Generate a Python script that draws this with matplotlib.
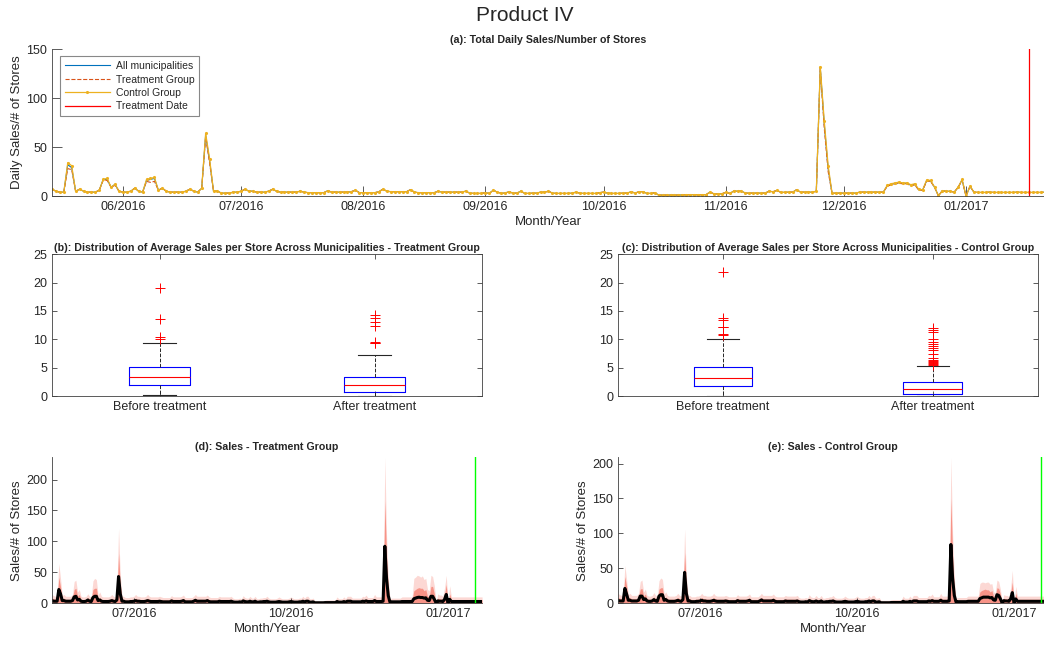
import matplotlib
matplotlib.use('Agg')
import matplotlib.pyplot as plt
import matplotlib.dates as mdates
import pandas as pd

plt.rcParams['font.family'] = ['Liberation Sans', 'DejaVu Sans']
plt.rcParams['text.color'] = '#262626'
plt.rcParams['axes.labelcolor'] = '#262626'
plt.rcParams['xtick.color'] = '#262626'
plt.rcParams['ytick.color'] = '#262626'

start_date = '2016-05-14'
treat_date = '2017-01-17'

# (a) daily sales / number of stores, one row per week (starting Saturday)
ctrl_top = [
    7, 5, 4, 4, 34, 31, 5,
    7, 5, 4, 4, 4, 6, 17,
    18, 9, 12, 5, 4, 4, 5,
    8, 5, 4, 17, 18, 19, 6,
    8, 5, 4, 4, 4, 4, 5,
    7, 5, 4, 8, 64, 38, 5,
    5, 3, 3, 3, 4, 4, 5,
    7, 5, 5, 4, 4, 4, 5,
    7, 5, 4, 4, 4, 4, 4,
    5, 4, 3.5, 3.5, 3.5, 3.5, 3.5,
    5.5, 4, 4, 4, 4, 4, 4.5,
    6, 3.5, 3.5, 3.5, 3.5, 3.5, 4.5,
    7, 5, 4.5, 4.5, 4.5, 4.5, 4.5,
    6.5, 4, 3.5, 3.5, 3.5, 3.5, 3.5,
    5, 4, 4, 4, 4, 4, 4,
    5, 3, 2.7, 2.7, 2.7, 3.5, 2.7,
    6, 4, 3, 3, 4.5, 3, 3,
    5, 2.7, 2.7, 3, 3, 4, 4,
    5, 3, 2.7, 2.7, 2.7, 2.7, 3,
    4, 3, 2.7, 2.7, 2.7, 2.7, 3.5,
    4, 3, 2.7, 2.7, 2.7, 3, 3,
    4.5, 3, 4.5, 4.5, 2.7, 2.7, 3.5,
    1, 1, 1, 1, 1, 1, 1.2,
    1.4, 1.4, 1.4, 1.4, 1.4, 1.4, 4,
    2.3, 2.3, 2.3, 3.8, 2.7, 5, 5,
    5, 3, 3, 3, 3, 3, 3,
    5, 4.4, 5.8, 3.8, 3.8, 4, 4,
    6.5, 4, 4, 4, 4, 5, 132,
    77, 31, 2.7, 3, 3, 3, 3,
    3, 3, 4, 4, 4, 4, 4,
    4, 4, 11, 12.6, 13.5, 14.3, 13.3,
    13.5, 11.6, 12.6, 6.8, 6.5, 16.4, 16,
    9.2, 0.3, 5.5, 4.8, 5, 4, 9,
    17, 0, 10, 4, 3.7, 3.7, 3.7,
    4, 3.7, 3.7, 3.7, 3.7, 3.7, 3.7,
    4, 3.7, 3.7, 3.7, 3.7, 3.7, 3.7,
    4,
]
treat_top = [
    7, 5, 4, 4, 28, 27, 5,
    7, 5, 4, 4, 4, 6, 16,
    16, 9, 11, 5, 4, 4, 5,
    8, 5, 4, 15, 14, 15, 6,
    8, 5, 4, 4, 4, 4, 5,
    7, 5, 4, 8, 60, 34, 5,
    5, 3, 3, 3, 4, 4, 5,
    7, 5, 5, 4, 4, 4, 5,
    7, 5, 4, 4, 4, 4, 4,
    5, 4, 3.5, 3.5, 3.5, 3.5, 3.5,
    5.5, 4, 4, 4, 4, 4, 4.5,
    6, 3.5, 3.5, 3.5, 3.5, 3.5, 4.5,
    7, 5, 4.5, 4.5, 4.5, 4.5, 4.5,
    6.5, 4, 3.5, 3.5, 3.5, 3.5, 3.5,
    5, 4, 4, 4, 4, 4, 4,
    5, 3, 2.7, 2.7, 2.7, 3.5, 2.7,
    6, 4, 3, 3, 4.5, 3, 3,
    5, 2.7, 2.7, 3, 3, 4, 4,
    5, 3, 2.7, 2.7, 2.7, 2.7, 3,
    4, 3, 2.7, 2.7, 2.7, 2.7, 3.5,
    4, 3, 2.7, 2.7, 2.7, 3, 3,
    4.5, 3, 4.5, 4.5, 2.7, 2.7, 3.5,
    1, 1, 1, 1, 1, 1, 1.2,
    1.4, 1.4, 1.4, 1.4, 1.4, 1.4, 4,
    2.3, 2.3, 2.3, 3.8, 2.7, 5, 5,
    5, 3, 3, 3, 3, 3, 3,
    5, 4.4, 5.8, 3.8, 3.8, 4, 4,
    6.5, 4, 4, 4, 4, 5, 130,
    70, 25, 2.7, 3, 3, 3, 3,
    3, 3, 4, 4, 4, 4, 4,
    4, 4, 10, 11.5, 12.5, 13, 12.5,
    12.5, 10.5, 11.5, 6, 6, 15, 15,
    9, 0.3, 5.5, 4.8, 5, 4, 9,
    16, 0, 10, 4, 3.7, 3.7, 3.7,
    4, 3.7, 3.7, 3.7, 3.7, 3.7, 3.7,
    4, 3.7, 3.7, 3.7, 3.7, 3.7, 3.7,
    4,
]
all_top = [
    7, 5, 4, 4, 32, 29, 5,
    7, 5, 4, 4, 4, 6, 17,
    17, 9, 12, 5, 4, 4, 5,
    8, 5, 4, 16, 17, 18, 6,
    8, 5, 4, 4, 4, 4, 5,
    7, 5, 4, 8, 62, 36, 5,
    5, 3, 3, 3, 4, 4, 5,
    7, 5, 5, 4, 4, 4, 5,
    7, 5, 4, 4, 4, 4, 4,
    5, 4, 3.5, 3.5, 3.5, 3.5, 3.5,
    5.5, 4, 4, 4, 4, 4, 4.5,
    6, 3.5, 3.5, 3.5, 3.5, 3.5, 4.5,
    7, 5, 4.5, 4.5, 4.5, 4.5, 4.5,
    6.5, 4, 3.5, 3.5, 3.5, 3.5, 3.5,
    5, 4, 4, 4, 4, 4, 4,
    5, 3, 2.7, 2.7, 2.7, 3.5, 2.7,
    6, 4, 3, 3, 4.5, 3, 3,
    5, 2.7, 2.7, 3, 3, 4, 4,
    5, 3, 2.7, 2.7, 2.7, 2.7, 3,
    4, 3, 2.7, 2.7, 2.7, 2.7, 3.5,
    4, 3, 2.7, 2.7, 2.7, 3, 3,
    4.5, 3, 4.5, 4.5, 2.7, 2.7, 3.5,
    1, 1, 1, 1, 1, 1, 1.2,
    1.4, 1.4, 1.4, 1.4, 1.4, 1.4, 4,
    2.3, 2.3, 2.3, 3.8, 2.7, 5, 5,
    5, 3, 3, 3, 3, 3, 3,
    5, 4.4, 5.8, 3.8, 3.8, 4, 4,
    6.5, 4, 4, 4, 4, 5, 131,
    74, 28, 2.7, 3, 3, 3, 3,
    3, 3, 4, 4, 4, 4, 4,
    4, 4, 10.5, 12, 13, 13.6, 13,
    13, 11, 12, 6.4, 6.2, 15.7, 15.5,
    9.1, 0.3, 5.5, 4.8, 5, 4, 9,
    16.5, 0, 10, 4, 3.7, 3.7, 3.7,
    4, 3.7, 3.7, 3.7, 3.7, 3.7, 3.7,
    4, 3.7, 3.7, 3.7, 3.7, 3.7, 3.7,
    4,
]

# (b), (c) box statistics
box_labels = ['Before treatment', 'After treatment']
treat_box = [
    dict(whislo=0.1, q1=2.0, med=3.4, q3=5.1, whishi=9.4, fliers=[10.0, 10.4, 13.5, 19.0]),
    dict(whislo=0.0, q1=0.7, med=2.0, q3=3.4, whishi=7.2,
         fliers=[9.3, 9.4, 9.55, 12.4, 13.0, 13.8, 14.3]),
]
ctrl_box = [
    dict(whislo=0.0, q1=1.8, med=3.1, q3=5.1, whishi=10.1,
         fliers=[10.7, 10.9, 12.1, 12.2, 13.4, 13.8, 21.8]),
    dict(whislo=0.0, q1=0.4, med=1.3, q3=2.5, whishi=5.3,
         fliers=[5.5, 5.7, 5.8, 6.0, 6.2, 6.4, 6.7, 7.4, 8.1, 8.5, 8.8, 9.1, 9.5,
                 10.1, 11.2, 11.6, 12.0]),
]

# (d) treatment group: median, 90th percentile and max across municipalities
treat_med = [
    4, 3, 3, 3, 22, 15, 4,
    4, 3, 3, 3, 3, 4, 10,
    11, 5, 6, 3, 2.5, 2.5, 3,
    5, 3, 2.5, 9, 11, 11, 4,
    5, 3, 2.5, 2.5, 2.5, 2.5, 3,
    4, 3, 2.5, 5, 43, 15, 3,
    3, 2, 2, 2, 2.5, 2.5, 3,
    4, 3, 3, 2.5, 2.5, 2.5, 3,
    4, 3, 2.5, 2.5, 2.5, 2.5, 2.5,
    3, 2.5, 2, 2, 2, 2, 2,
    3.5, 2.5, 2.5, 2.5, 2.5, 2.5, 3,
    4, 2, 2, 2, 2, 2, 3,
    4.5, 3, 3, 3, 3, 3, 3,
    4, 2.5, 2, 2, 2, 2, 2,
    3, 2.5, 2.5, 2.5, 2.5, 2.5, 2.5,
    3, 2, 1.5, 1.5, 1.5, 2, 1.5,
    3.5, 2.5, 2, 2, 3, 2, 2,
    3, 1.5, 1.5, 2, 2, 2.5, 2.5,
    3, 2, 1.5, 1.5, 1.5, 1.5, 2,
    2.5, 2, 1.5, 1.5, 1.5, 1.5, 2,
    2.5, 2, 1.5, 1.5, 1.5, 2, 2,
    3, 2, 3, 3, 1.5, 1.5, 2,
    0.5, 0.5, 0.5, 0.5, 0.5, 0.5, 0.8,
    0.8, 0.8, 0.8, 0.8, 0.8, 0.8, 2.5,
    1.5, 1.5, 1.5, 2.5, 1.5, 3, 3,
    3, 2, 2, 2, 2, 2, 2,
    3, 2.5, 3.5, 2.5, 2.5, 2.5, 2.5,
    4, 2.5, 2.5, 2.5, 2.5, 3, 92,
    40, 12, 1.5, 2, 2, 2, 2,
    2, 2, 2.5, 2.5, 2.5, 2.5, 2.5,
    2.5, 2.5, 7, 8, 9, 9.5, 9,
    9, 8, 8.5, 4.5, 4, 11, 11,
    6, 0.2, 3.5, 3, 3, 2.5, 6,
    14, 0, 6, 2.5, 2.5, 2.5, 2.5,
    2.5, 2.5, 2.5, 2.5, 2.5, 2.5, 2.5,
    2.5, 2.5, 2.5, 2.5, 2.5, 2.5, 2.5,
    2.5,
]
treat_q90 = [
    8, 7, 6, 6, 42, 26, 7,
    8, 6, 6, 6, 6, 8, 22,
    24, 11, 14, 6, 5.5, 5.5, 6,
    9, 6, 5.5, 22, 24, 24, 7,
    9, 6, 5.5, 5.5, 5.5, 5.5, 6,
    8, 6, 5.5, 9, 80, 30, 6,
    6, 5, 5, 5, 5.5, 5.5, 6,
    8, 6, 6, 5.5, 5.5, 5.5, 6,
    8, 6, 5.5, 5.5, 5.5, 5.5, 5.5,
    6, 5.5, 5, 5, 5, 5, 5,
    7, 5.5, 5.5, 5.5, 5.5, 5.5, 6,
    7.5, 5, 5, 5, 5, 5, 6,
    8, 6, 6, 6, 6, 6, 6,
    7.5, 5.5, 5, 5, 5, 5, 5,
    6, 5.5, 5.5, 5.5, 5.5, 5.5, 5.5,
    6, 4, 3.5, 3.5, 3.5, 4, 3.5,
    7, 5, 4, 4, 6, 4, 4,
    6, 3.5, 3.5, 4, 4, 5, 5,
    6, 4, 3.5, 3.5, 3.5, 3.5, 4,
    5.5, 4, 3.5, 3.5, 3.5, 3.5, 4,
    5.5, 4, 3.5, 3.5, 3.5, 4, 4,
    6, 4, 6, 6, 3.5, 3.5, 4,
    1.5, 1.5, 1.5, 1.5, 1.5, 1.5, 1.8,
    2, 2, 2, 2, 2, 2, 5.5,
    3.5, 3.5, 3.5, 5.5, 3.5, 6, 6,
    6, 4, 4, 4, 4, 4, 4,
    6, 5.5, 7, 5, 5, 5, 5,
    8, 5.5, 5.5, 5.5, 5.5, 6, 165,
    75, 25, 3.5, 4, 4, 4, 4,
    4, 4, 5.5, 5.5, 5.5, 5.5, 5.5,
    5.5, 5.5, 20, 22, 24, 25, 24,
    24, 20, 22, 11, 10, 27, 27,
    15, 0.8, 8, 7, 7, 5.5, 14,
    30, 0, 15, 5.5, 5.5, 5.5, 5.5,
    5.5, 5.5, 5.5, 5.5, 5.5, 5.5, 5.5,
    5.5, 5.5, 5.5, 5.5, 5.5, 5.5, 5.5,
    5.5,
]
treat_max = [
    14, 12, 11, 11, 64, 40, 12,
    14, 11, 11, 11, 11, 14, 35,
    37, 18, 22, 11, 10, 10, 11,
    15, 11, 10, 36, 40, 38, 13,
    18, 11, 10, 10, 10, 10, 11,
    14, 11, 10, 15, 121, 45, 11,
    11, 9, 9, 9, 10, 10, 11,
    14, 11, 11, 10, 10, 10, 11,
    14, 11, 10, 10, 10, 10, 10,
    11, 10, 9, 9, 9, 9, 9,
    12, 10, 10, 10, 10, 10, 11,
    13, 9, 9, 9, 9, 9, 11,
    14, 11, 11, 11, 11, 11, 11,
    13, 10, 9, 9, 9, 9, 9,
    11, 10, 10, 10, 10, 10, 10,
    11, 8, 7, 7, 7, 8, 7,
    12, 9, 8, 8, 11, 8, 8,
    11, 7, 7, 8, 8, 9, 9,
    11, 8, 7, 7, 7, 7, 8,
    10, 8, 7, 7, 7, 7, 8,
    10, 8, 7, 7, 7, 8, 8,
    11, 8, 11, 11, 7, 7, 8,
    4, 4, 4, 4, 4, 4, 4.5,
    5, 5, 5, 5, 5, 5, 10,
    7, 7, 7, 10, 7, 11, 11,
    11, 8, 8, 8, 8, 8, 8,
    11, 10, 13, 9, 9, 9, 9,
    14, 10, 10, 10, 10, 11, 236,
    110, 40, 7, 8, 8, 8, 8,
    8, 8, 10, 10, 10, 10, 10,
    10, 10, 40, 42, 45, 44, 42,
    44, 38, 40, 22, 20, 45, 43,
    28, 2, 15, 13, 13, 11, 25,
    45, 0, 28, 10, 10, 10, 10,
    10, 10, 10, 10, 10, 10, 10,
    10, 10, 10, 10, 10, 10, 10,
    10,
]

# (e) control group
ctrl_med = [
    4, 3, 3, 3, 21, 13, 4,
    4, 3, 3, 3, 3, 4, 10,
    10, 5, 6, 3, 2.5, 2.5, 3,
    5, 3, 2.5, 10, 12, 12, 4,
    5, 3, 2.5, 2.5, 2.5, 2.5, 3,
    4, 3, 2.5, 5, 44, 14, 3,
    3, 2, 2, 2, 2.5, 2.5, 3,
    4, 3, 3, 2.5, 2.5, 2.5, 3,
    4, 3, 2.5, 2.5, 2.5, 2.5, 2.5,
    3, 2.5, 2, 2, 2, 2, 2,
    3.5, 2.5, 2.5, 2.5, 2.5, 2.5, 3,
    4, 2, 2, 2, 2, 2, 3,
    4.5, 3, 3, 3, 3, 3, 3,
    4, 2.5, 2, 2, 2, 2, 2,
    3, 2.5, 2.5, 2.5, 2.5, 2.5, 2.5,
    3, 2, 1.5, 1.5, 1.5, 2, 1.5,
    3.5, 2.5, 2, 2, 3, 2, 2,
    3, 1.5, 1.5, 2, 2, 2.5, 2.5,
    3, 2, 1.5, 1.5, 1.5, 1.5, 2,
    2.5, 2, 1.5, 1.5, 1.5, 1.5, 2,
    2.5, 2, 1.5, 1.5, 1.5, 2, 2,
    3, 2, 3, 3, 1.5, 1.5, 2,
    0.5, 0.5, 0.5, 0.5, 0.5, 0.5, 0.8,
    0.8, 0.8, 0.8, 0.8, 0.8, 0.8, 2.5,
    1.5, 1.5, 1.5, 2.5, 1.5, 3, 3,
    3, 2, 2, 2, 2, 2, 2,
    3, 2.5, 3.5, 2.5, 2.5, 2.5, 2.5,
    4, 2.5, 2.5, 2.5, 2.5, 3, 84,
    36, 11, 1.5, 2, 2, 2, 2,
    2, 2, 2.5, 2.5, 2.5, 2.5, 2.5,
    2.5, 2.5, 6.5, 7.5, 8.5, 8.5, 8.5,
    8.5, 7.5, 8, 4.5, 4, 12, 11,
    6, 0.2, 3.5, 3, 3, 2.5, 6,
    15, 0, 6, 2.5, 2.5, 2.5, 2.5,
    2.5, 2.5, 2.5, 2.5, 2.5, 2.5, 2.5,
    2.5, 2.5, 2.5, 2.5, 2.5, 2.5, 2.5,
    2.5,
]
ctrl_q90 = [
    8, 7, 6, 6, 38, 24, 7,
    8, 6, 6, 6, 6, 8, 20,
    21, 10, 13, 6, 5.5, 5.5, 6,
    9, 6, 5.5, 20, 22, 22, 7,
    9, 6, 5.5, 5.5, 5.5, 5.5, 6,
    8, 6, 5.5, 9, 72, 27, 6,
    6, 5, 5, 5, 5.5, 5.5, 6,
    8, 6, 6, 5.5, 5.5, 5.5, 6,
    8, 6, 5.5, 5.5, 5.5, 5.5, 5.5,
    6, 5.5, 5, 5, 5, 5, 5,
    7, 5.5, 5.5, 5.5, 5.5, 5.5, 6,
    7.5, 5, 5, 5, 5, 5, 6,
    8, 6, 6, 6, 6, 6, 6,
    7.5, 5.5, 5, 5, 5, 5, 5,
    6, 5.5, 5.5, 5.5, 5.5, 5.5, 5.5,
    6, 4, 3.5, 3.5, 3.5, 4, 3.5,
    7, 5, 4, 4, 6, 4, 4,
    6, 3.5, 3.5, 4, 4, 5, 5,
    6, 4, 3.5, 3.5, 3.5, 3.5, 4,
    5.5, 4, 3.5, 3.5, 3.5, 3.5, 4,
    5.5, 4, 3.5, 3.5, 3.5, 4, 4,
    6, 4, 6, 6, 3.5, 3.5, 4,
    1.5, 1.5, 1.5, 1.5, 1.5, 1.5, 1.8,
    2, 2, 2, 2, 2, 2, 5.5,
    3.5, 3.5, 3.5, 5.5, 3.5, 6, 6,
    6, 4, 4, 4, 4, 4, 4,
    6, 5.5, 7, 5, 5, 5, 5,
    8, 5.5, 5.5, 5.5, 5.5, 6, 150,
    68, 22, 3.5, 4, 4, 4, 4,
    4, 4, 5.5, 5.5, 5.5, 5.5, 5.5,
    5.5, 5.5, 16, 18, 19, 20, 19,
    19, 16, 18, 10, 9, 22, 21,
    13, 0.8, 7, 6, 6, 5, 13,
    30, 0, 14, 5.5, 5.5, 5.5, 5.5,
    5.5, 5.5, 5.5, 5.5, 5.5, 5.5, 5.5,
    5.5, 5.5, 5.5, 5.5, 5.5, 5.5, 5.5,
    5.5,
]
ctrl_max = [
    14, 12, 11, 11, 54, 34, 12,
    14, 11, 11, 11, 11, 14, 31,
    33, 16, 20, 11, 10, 10, 11,
    15, 11, 10, 32, 36, 34, 13,
    16, 11, 10, 10, 10, 10, 11,
    14, 11, 10, 15, 106, 40, 11,
    11, 9, 9, 9, 10, 10, 11,
    14, 11, 11, 10, 10, 10, 11,
    14, 11, 10, 10, 10, 10, 10,
    11, 10, 9, 9, 9, 9, 9,
    12, 10, 10, 10, 10, 10, 11,
    13, 9, 9, 9, 9, 9, 11,
    14, 11, 11, 11, 11, 11, 11,
    13, 10, 9, 9, 9, 9, 9,
    11, 10, 10, 10, 10, 10, 10,
    11, 8, 7, 7, 7, 8, 7,
    12, 9, 8, 8, 11, 8, 8,
    11, 7, 7, 8, 8, 9, 9,
    11, 8, 7, 7, 7, 7, 8,
    10, 8, 7, 7, 7, 7, 8,
    10, 8, 7, 7, 7, 8, 8,
    11, 8, 11, 11, 7, 7, 8,
    4, 4, 4, 4, 4, 4, 4.5,
    5, 5, 5, 5, 5, 5, 10,
    7, 7, 7, 10, 7, 11, 11,
    11, 8, 8, 8, 8, 8, 8,
    11, 10, 13, 9, 9, 9, 9,
    14, 10, 10, 10, 10, 11, 209,
    100, 36, 7, 8, 8, 8, 8,
    8, 8, 10, 10, 10, 10, 10,
    10, 10, 28, 30, 30, 29, 30,
    30, 27, 28, 16, 15, 33, 31,
    20, 2, 12, 11, 11, 9, 22,
    47, 0, 24, 10, 10, 10, 10,
    10, 10, 10, 10, 10, 10, 10,
    10, 10, 10, 10, 10, 10, 10,
    10,
]

days = pd.date_range(start_date, periods=len(ctrl_top), freq='D')
tdate = pd.Timestamp(treat_date)

fig = plt.figure(figsize=(10.44, 6.45), dpi=100)
fig.text(0.503, 0.976, 'Product IV', ha='center', va='center', fontsize=15)

axis_col = '#404040'
title_size = 7.7
tick_size = 9


def style(ax, box=False, tlen=3.5):
    for s in ['left', 'bottom', 'top', 'right']:
        ax.spines[s].set_color(axis_col)
        ax.spines[s].set_linewidth(0.6)
    if not box:
        ax.spines['top'].set_visible(False)
        ax.spines['right'].set_visible(False)
    ax.tick_params(direction='in', length=tlen, width=0.6, colors=axis_col,
                   labelcolor='#262626', labelsize=tick_size, top=box, right=box)


# (a)
ax = fig.add_axes([0.0498, 0.696, 0.951, 0.228])
l1, = ax.plot(days, all_top, color='#0072BD', lw=0.8)
l2, = ax.plot(days, treat_top, color='#D95319', lw=0.8, ls='--')
l3, = ax.plot(days, ctrl_top, color='#EDB120', lw=0.9, marker='.', markersize=2.5)
l4 = ax.axvline(tdate, ymin=0, ymax=1, color='#FF0000', lw=0.9)
ax.set_xlim(days[0], days[-1])
ax.set_ylim(0, 150)
ax.set_yticks([0, 50, 100, 150])
ax.xaxis.set_major_locator(mdates.MonthLocator())
ax.xaxis.set_major_formatter(mdates.DateFormatter('%m/%Y'))
style(ax, tlen=7)
ax.set_title('(a): Total Daily Sales/Number of Stores', fontsize=title_size, fontweight='bold', pad=4)
ax.set_xlabel('Month/Year', fontsize=9.5, labelpad=2)
ax.set_ylabel('Daily Sales/# of Stores', fontsize=9.5, labelpad=2)
leg = ax.legend([l1, l2, l3, l4], ['All municipalities', 'Treatment Group', 'Control Group', 'Treatment Date'],
                loc='upper left', fontsize=7.5, handlelength=4.3, fancybox=False, framealpha=1,
                borderpad=0.45, labelspacing=0.33, handletextpad=0.6, bbox_to_anchor=(0.003, 0.985))
leg.get_frame().set_edgecolor('#888888')
leg.get_frame().set_linewidth(0.8)


def box_panel(rect, stats, title):
    ax = fig.add_axes(rect)
    for s, lab in zip(stats, box_labels):
        s['label'] = lab
    ax.bxp(stats, positions=[1, 2], widths=0.28, capwidths=0.15, showfliers=True,
           boxprops=dict(color='#0000FF', lw=0.8),
           medianprops=dict(color='#FF0000', lw=0.8),
           whiskerprops=dict(color='#262626', lw=0.7, ls='--'),
           capprops=dict(color='#262626', lw=0.8),
           flierprops=dict(marker='+', markeredgecolor='#FF0000', markersize=7, markeredgewidth=0.7))
    ax.set_xlim(0.5, 2.5)
    ax.set_ylim(0, 25)
    ax.set_yticks([0, 5, 10, 15, 20, 25])
    style(ax, box=True, tlen=3.5)
    ax.set_title(title, fontsize=title_size, fontweight='bold', pad=2)
    return ax


box_panel([0.0498, 0.386, 0.412, 0.220], treat_box,
          '(b): Distribution of Average Sales per Store Across Municipalities - Treatment Group')
box_panel([0.592, 0.386, 0.402, 0.220], ctrl_box,
          '(c): Distribution of Average Sales per Store Across Municipalities - Control Group')


def fan_panel(rect, med, q90, qmax, title):
    ax = fig.add_axes(rect)
    ax.fill_between(days, 0, qmax, color='#F2402A', alpha=0.2, lw=0)
    ax.fill_between(days, 0, q90, color='#F2402A', alpha=0.45, lw=0)
    ax.plot(days, med, color='black', lw=2.2)
    ax.axvline(tdate, color='#00FF00', lw=1)
    ax.set_xlim(days[0], days[-1])
    ax.set_ylim(0, max(qmax))
    ax.set_yticks([0, 50, 100, 150, 200])
    ax.xaxis.set_major_locator(mdates.MonthLocator(bymonth=[1, 4, 7, 10]))
    ax.xaxis.set_major_formatter(mdates.DateFormatter('%m/%Y'))
    style(ax, tlen=3.5)
    ax.set_title(title, fontsize=title_size, fontweight='bold', pad=5)
    ax.set_xlabel('Month/Year', fontsize=9.5, labelpad=2)
    ax.set_ylabel('Sales/# of Stores', fontsize=9.5, labelpad=2)
    return ax


fan_panel([0.0498, 0.065, 0.412, 0.226], treat_med, treat_q90, treat_max, '(d): Sales - Treatment Group')
fan_panel([0.592, 0.065, 0.412, 0.226], ctrl_med, ctrl_q90, ctrl_max, '(e): Sales - Control Group')

fig.savefig('out.png', dpi=100)
